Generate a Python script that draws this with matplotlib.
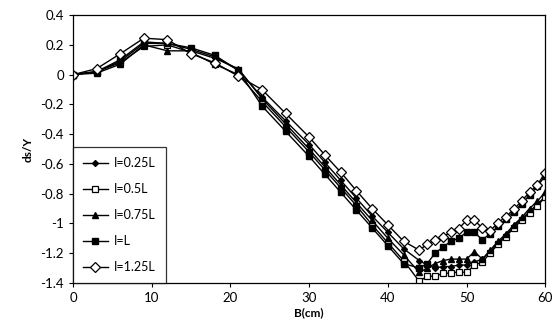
"""
ds/Y against B for different I values
"""

import numpy as np
import matplotlib
matplotlib.use("Agg")
import matplotlib.pyplot as plt
from matplotlib.ticker import FuncFormatter

plt.rcParams["font.family"] = ["Lato", "DejaVu Sans"]

# x positions (cm)
B = [0, 3, 6, 9, 12, 15, 18, 21, 24, 27, 30, 32, 34, 36, 38, 40, 42, 44,
     45, 46, 47, 48, 49, 50, 51, 52, 53, 54, 55, 56, 57, 58, 59, 60]

# ds/Y values
I_025L = [0, 0.02, 0.09, 0.21, 0.21, 0.17, 0.12, 0.03, -0.15, -0.31, -0.47, -0.59, -0.71, -0.83, -0.95, -1.06, -1.17, -1.25,
          -1.28, -1.30, -1.29, -1.29, -1.28, -1.28, -1.26, -1.24, -1.19, -1.13, -1.08, -1.02, -0.97, -0.92, -0.87, -0.82]
I_05L = [0, 0.02, 0.08, 0.19, 0.20, 0.15, 0.07, 0.0, -0.18, -0.35, -0.52, -0.64, -0.76, -0.88, -1.01, -1.13, -1.25, -1.39,
         -1.355, -1.355, -1.335, -1.335, -1.325, -1.33, -1.28, -1.26, -1.20, -1.14, -1.09, -1.03, -0.98, -0.93, -0.88, -0.825]
I_075L = [0, 0.01, 0.07, 0.20, 0.16, 0.16, 0.11, 0.04, -0.16, -0.33, -0.50, -0.62, -0.74, -0.86, -0.98, -1.10, -1.21, -1.33,
          -1.30, -1.27, -1.25, -1.24, -1.24, -1.24, -1.19, -1.24, -1.18, -1.12, -1.07, -1.01, -0.96, -0.90, -0.85, -0.79]
I_L = [0, 0.02, 0.10, 0.22, 0.21, 0.18, 0.13, 0.03, -0.21, -0.38, -0.55, -0.67, -0.79, -0.91, -1.03, -1.15, -1.27, -1.30,
       -1.27, -1.20, -1.16, -1.12, -1.10, -1.06, -1.06, -1.11, -1.07, -1.02, -0.97, -0.92, -0.87, -0.81, -0.75, -0.68]
I_125L = [0, 0.04, 0.14, 0.245, 0.235, 0.14, 0.08, -0.01, -0.10, -0.26, -0.42, -0.54, -0.655, -0.78, -0.90, -1.01, -1.12, -1.18,
          -1.14, -1.11, -1.09, -1.06, -1.035, -0.98, -0.98, -1.03, -1.05, -0.995, -0.955, -0.905, -0.85, -0.79, -0.74, -0.66]

labels = ["I=0.25L", "I=0.5L", "I=0.75L", "I=L", "I=1.25L"]

fig = plt.figure(figsize=(5.53, 3.36), dpi=100)
ax = fig.add_axes([0.132, 0.158, 0.854, 0.797])

# marker styles per series
ax.plot(B, I_025L, color="black", lw=1, marker="D", ms=3, mfc="black", mec="black", label=labels[0])
ax.plot(B, I_05L, color="black", lw=1, marker="s", ms=4.5, mfc="white", mec="black", mew=0.9, label=labels[1])
ax.plot(B, I_075L, color="black", lw=1, marker="^", ms=5, mfc="black", mec="black", label=labels[2])
ax.plot(B, I_L, color="black", lw=1, marker="s", ms=4, mfc="black", mec="black", label=labels[3])
ax.plot(B, I_125L, color="black", lw=1, marker="D", ms=5.5, mfc="white", mec="black", mew=0.9, label=labels[4])

ax.set_xlim(0, 60)
ax.set_ylim(-1.4, 0.4)
ax.set_xticks(np.arange(0, 61, 10))
ax.set_yticks(np.arange(-1.4, 0.41, 0.2))
ax.yaxis.set_major_formatter(FuncFormatter(lambda v, p: "%g" % (round(v, 1) + 0.0)))
ax.tick_params(direction="out", length=3, width=0.8, labelsize=9.5, colors="black")
for s in ax.spines.values():
    s.set_linewidth(0.9)

ax.set_xlabel("B(cm)", fontsize=8.5, fontweight="bold", labelpad=2)
ax.set_ylabel("ds/Y", fontsize=8.5, fontweight="bold", labelpad=5)

leg = ax.legend(loc="lower left", fontsize=9, frameon=True, fancybox=False,
                edgecolor="black", borderaxespad=0, handlelength=2.0,
                labelspacing=1.12, borderpad=0.8, handletextpad=0.5)
leg.get_frame().set_linewidth(0.9)

plt.savefig("out.png", dpi=100)
